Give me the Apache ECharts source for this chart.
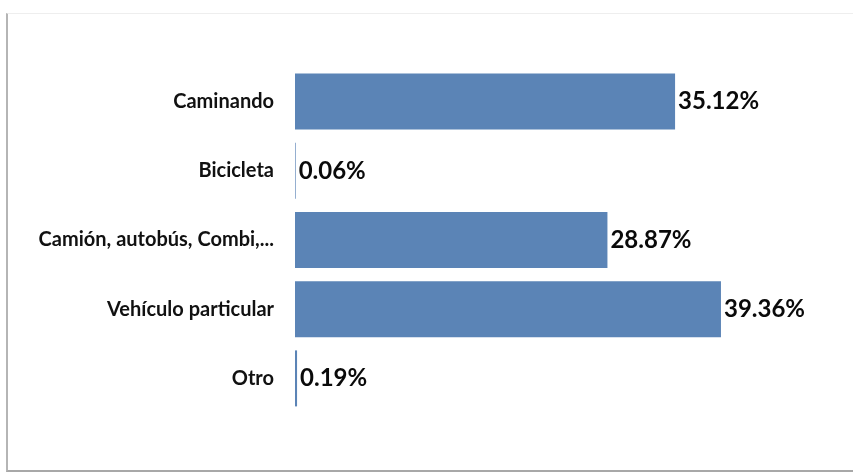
<!DOCTYPE html>
<html>
<head>
<meta charset="utf-8">
<script src="https://cdn.jsdelivr.net/npm/echarts@6/dist/echarts.min.js"></script>
<style>
html,body{margin:0;padding:0;background:#fff;}
#frame{position:absolute;left:6px;top:13px;width:860px;height:459px;border-left:2px solid #b5b5b5;border-bottom:2px solid #a8a8a8;border-top:1px solid #eeeeee;box-sizing:border-box;}
#chart{position:absolute;left:0;top:0;width:853px;height:475px;}
</style>
</head>
<body>
<div id="frame"></div>
<div id="chart"></div>
<script>
const categories = ["Caminando", "Bicicleta", "Camión, autobús, Combi,...", "Vehículo particular", "Otro"];
const values = [35.12, 0.06, 28.87, 39.36, 0.19];

const chart = echarts.init(document.getElementById('chart'), null, {renderer: 'canvas'});
chart.setOption({
  animation: false,
  backgroundColor: 'transparent',
  grid: {left: 295, right: 71, top: 67, bottom: 62, containLabel: false},
  xAxis: {
    type: 'value', min: 0, max: 45, show: false
  },
  yAxis: {
    type: 'category',
    data: categories,
    inverse: true,
    axisLine: {show: false},
    axisTick: {show: false},
    axisLabel: {
      margin: 21,
      fontFamily: 'Lato',
      fontWeight: 'bold',
      fontSize: 20,
      color: '#111'
    }
  },
  series: [{
    type: 'bar',
    data: values,
    barWidth: 56,
    itemStyle: {color: '#5b84b6'},
    label: {
      show: true,
      position: 'right',
      distance: 3,
      fontFamily: 'Lato',
      fontWeight: 'bold',
      fontSize: 24,
      color: '#0a0a0a',
      formatter: p => p.value.toFixed(2) + '%'
    }
  }]
});
</script>
</body>
</html>
